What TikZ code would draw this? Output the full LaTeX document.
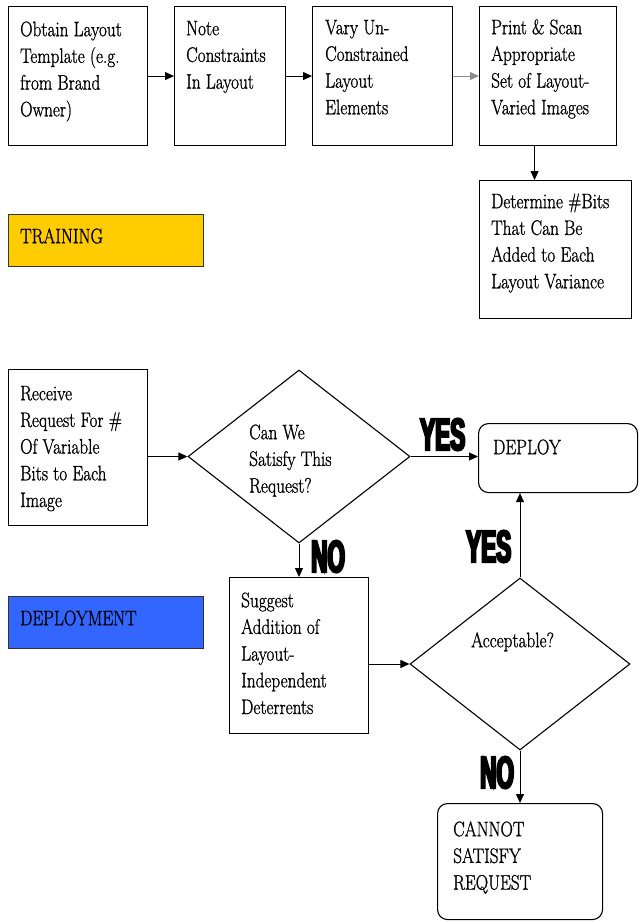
\documentclass[tikz,border=0pt]{standalone}
\usepackage{fontspec}
\setmainfont{Latin Modern Roman}[FakeStretch=0.82,FakeBold=1]
\newfontfamily\yesnofont{Liberation Sans}[FakeStretch=0.5,FakeBold=5,BoldFont={* Bold}]
\usetikzlibrary{shapes.geometric,arrows.meta}
\definecolor{trainc}{HTML}{FFCC00}
\definecolor{deployc}{HTML}{3366FF}
\newcommand{\fl}{\rule{0pt}{15pt}}
\tikzset{
  boxst/.style={draw, line width=1.1pt, anchor=north west, inner sep=0pt},
  rboxst/.style={boxst, rounded corners=10pt},
  diast/.style={draw, line width=1.1pt, diamond, inner sep=0pt},
  tagst/.style={draw=black!80, line width=1.1pt, anchor=north west, inner sep=0pt, minimum width=195pt, minimum height=52pt},
  txt/.style={anchor=north west, inner sep=0pt, align=left, font=\rmfamily\fontsize{21}{26.7}\selectfont},
  yn/.style={anchor=base west, inner sep=0pt, font=\yesnofont\bfseries\fontsize{45}{45}\selectfont},
  arr/.style={line width=1pt, -{Triangle[length=9pt,width=8pt]}}
}
\begin{document}
\begin{tikzpicture}[x=1pt,y=-1pt]
\useasboundingbox (0,0) rectangle (638,921);
% training row
\node[boxst, minimum width=139pt, minimum height=139pt] (b1) at (8,6) {};
\node[boxst, minimum width=111pt, minimum height=139pt] (b2) at (174,6) {};
\node[boxst, minimum width=140pt, minimum height=139pt] (b3) at (312,6) {};
\node[boxst, minimum width=137pt, minimum height=139pt] (b4) at (479,6) {};
\node[boxst, minimum width=152pt, minimum height=138pt] (b5) at (479,180) {};
\node[txt] (t1) at (20,21) {\fl Obtain Layout\\Template (e.g.\\from Brand\\Owner)};
\node[txt] (t2) at (186,20) {\fl Note\\Constraints\\In Layout};
\node[txt] (t3) at (325,19) {\fl Vary Un-\\Constrained\\Layout\\Elements};
\node[txt] (t4) at (491,19) {\fl Print \& Scan\\Appropriate\\Set of Layout-\\Varied Images};
\node[txt] (t5) at (491,193) {\fl Determine \#Bits\\That Can Be\\Added to Each\\Layout Variance};
\draw[arr] (b1.east) -- (b2.west);
\draw[arr] (b2.east) -- (b3.west);
\draw[arr, draw=black!45] (b3.east) -- (b4.west);
\draw[arr] ([xshift=-13.5pt]b4.south) -- ([xshift=-21pt]b5.north);
% tags
\node[tagst, fill=trainc] (train) at (8,214) {};
\node[txt] (traint) at (20,228) {\fl TRAINING};
\node[tagst, fill=deployc] (deploytag) at (8,596) {};
\node[txt] (deploytagt) at (20,610) {\fl DEPLOYMENT};
% deployment
\node[boxst, minimum width=139pt, minimum height=156pt] (recv) at (8,369) {};
\node[txt] (recvt) at (20,385) {\fl Receive\\Request For \#\\Of Variable\\Bits to Each\\Image};
\node[diast, minimum width=222pt, minimum height=173pt] (d1) at (299,456.5) {};
\node[txt] (d1t) at (249,424) {\fl Can We\\Satisfy This\\Request?};
\node[rboxst, minimum width=159pt, minimum height=69pt] (dep) at (478,423) {};
\node[txt] (dept) at (493,439) {\fl DEPLOY};
\node[boxst, minimum width=139pt, minimum height=156pt] (sug) at (229,577) {};
\node[txt] (sugt) at (241,592) {\fl Suggest\\Addition of\\Layout-\\Independent\\Deterrents};
\node[diast, minimum width=220pt, minimum height=172pt] (d2) at (520,664) {};
\node[txt] (d2t) at (471,632) {\fl Acceptable?};
\node[rboxst, minimum width=165pt, minimum height=116pt] (cant) at (437,803) {};
\node[txt] (cantt) at (453,821) {\fl CANNOT\\SATISFY\\REQUEST};
\draw[arr] (d1.west -| recv.east) -- (d1.west);
\draw[arr] (d1.east) -- (d1.east -| dep.west);
\draw[arr] (d1.south) -- (d1.south |- sug.north);
\draw[arr] (d2.west -| sug.east) -- (d2.west);
\draw[arr] (d2.north) -- (d2.north |- dep.south);
\draw[arr] (d2.south) -- (d2.south |- cant.north);
% yes/no labels
\node[yn] (yes1) at (420,450) {YES};
\node[yn] (yes2) at (466,562) {YES};
\node[yn] (no1) at (311,572) {NO};
\node[yn] (no2) at (480,788) {NO};
\end{tikzpicture}
\end{document}
